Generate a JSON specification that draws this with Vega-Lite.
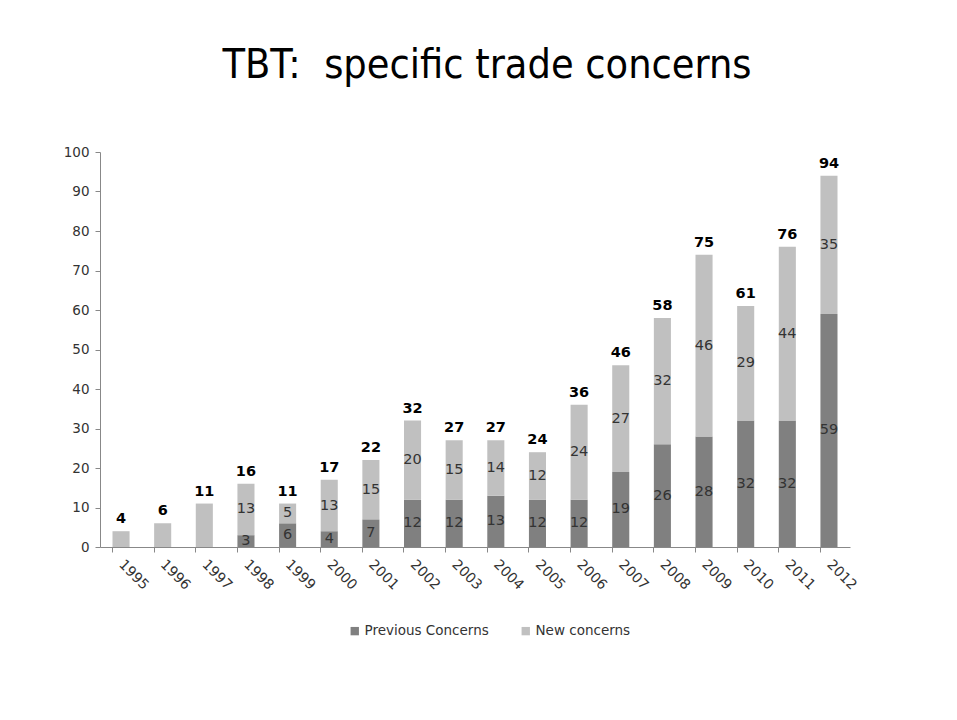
{
  "$schema": "https://vega.github.io/schema/vega-lite/v6.json",
  "autosize": "none",
  "width": 750,
  "height": 395,
  "padding": {"left": 100, "top": 152, "right": 107, "bottom": 173},
  "background": "white",
  "title": {
    "text": "TBT:\u00a0 specific trade concerns",
    "font": "DejaVu Sans Condensed, Liberation Sans, sans-serif",
    "fontSize": 41,
    "fontWeight": "normal",
    "color": "black",
    "anchor": "middle",
    "offset": 58,
    "dx": 12
  },
  "config": {
    "view": {"stroke": null},
    "font": "DejaVu Sans"
  },
  "data": {
    "values": [
      {"year": "1995", "series": "Previous Concerns", "value": 0, "total": 4},
      {"year": "1995", "series": "New concerns", "value": 4, "total": 4},
      {"year": "1996", "series": "Previous Concerns", "value": 0, "total": 6},
      {"year": "1996", "series": "New concerns", "value": 6, "total": 6},
      {"year": "1997", "series": "Previous Concerns", "value": 0, "total": 11},
      {"year": "1997", "series": "New concerns", "value": 11, "total": 11},
      {"year": "1998", "series": "Previous Concerns", "value": 3, "total": 16},
      {"year": "1998", "series": "New concerns", "value": 13, "total": 16},
      {"year": "1999", "series": "Previous Concerns", "value": 6, "total": 11},
      {"year": "1999", "series": "New concerns", "value": 5, "total": 11},
      {"year": "2000", "series": "Previous Concerns", "value": 4, "total": 17},
      {"year": "2000", "series": "New concerns", "value": 13, "total": 17},
      {"year": "2001", "series": "Previous Concerns", "value": 7, "total": 22},
      {"year": "2001", "series": "New concerns", "value": 15, "total": 22},
      {"year": "2002", "series": "Previous Concerns", "value": 12, "total": 32},
      {"year": "2002", "series": "New concerns", "value": 20, "total": 32},
      {"year": "2003", "series": "Previous Concerns", "value": 12, "total": 27},
      {"year": "2003", "series": "New concerns", "value": 15, "total": 27},
      {"year": "2004", "series": "Previous Concerns", "value": 13, "total": 27},
      {"year": "2004", "series": "New concerns", "value": 14, "total": 27},
      {"year": "2005", "series": "Previous Concerns", "value": 12, "total": 24},
      {"year": "2005", "series": "New concerns", "value": 12, "total": 24},
      {"year": "2006", "series": "Previous Concerns", "value": 12, "total": 36},
      {"year": "2006", "series": "New concerns", "value": 24, "total": 36},
      {"year": "2007", "series": "Previous Concerns", "value": 19, "total": 46},
      {"year": "2007", "series": "New concerns", "value": 27, "total": 46},
      {"year": "2008", "series": "Previous Concerns", "value": 26, "total": 58},
      {"year": "2008", "series": "New concerns", "value": 32, "total": 58},
      {"year": "2009", "series": "Previous Concerns", "value": 28, "total": 75},
      {"year": "2009", "series": "New concerns", "value": 46, "total": 75},
      {"year": "2010", "series": "Previous Concerns", "value": 32, "total": 61},
      {"year": "2010", "series": "New concerns", "value": 29, "total": 61},
      {"year": "2011", "series": "Previous Concerns", "value": 32, "total": 76},
      {"year": "2011", "series": "New concerns", "value": 44, "total": 76},
      {"year": "2012", "series": "Previous Concerns", "value": 59, "total": 94},
      {"year": "2012", "series": "New concerns", "value": 35, "total": 94}
    ]
  },
  "encoding": {
    "x": {
      "field": "year",
      "type": "ordinal",
      "scale": {"paddingInner": 0.59, "paddingOuter": 0.3},
      "axis": {
        "title": null,
        "bandPosition": 0,
        "labelAngle": 45,
        "labelAlign": "left",
        "labelBaseline": "middle",
        "labelFont": "DejaVu Sans",
        "labelFontSize": 14,
        "labelColor": "#333333",
        "labelPadding": 10,
        "domainColor": "#888888",
        "tickColor": "#888888",
        "tickSize": 5
      }
    }
  },
  "layer": [
    {
      "mark": {"type": "bar"},
      "encoding": {
        "y": {
          "field": "value",
          "type": "quantitative",
          "stack": "zero",
          "scale": {"domain": [0, 100]},
          "axis": {
            "title": null,
            "values": [0, 10, 20, 30, 40, 50, 60, 70, 80, 90, 100],
            "labelOverlap": false,
            "grid": false,
            "labelFont": "DejaVu Sans",
            "labelFontSize": 13.5,
            "labelColor": "#333333",
            "domainColor": "#888888",
            "tickColor": "#888888",
            "tickSize": 5,
            "labelPadding": 6
          }
        },
        "color": {
          "field": "series",
          "type": "nominal",
          "scale": {"domain": ["Previous Concerns", "New concerns"], "range": ["#808080", "#c0c0c0"]},
          "legend": {
            "title": null,
            "orient": "none",
            "direction": "horizontal",
            "legendX": 248,
            "legendY": 472,
            "symbolType": "square",
            "symbolSize": 70,
            "symbolStrokeWidth": 0,
            "labelFont": "DejaVu Sans",
            "labelFontSize": 13.5,
            "labelColor": "#333333",
            "labelOffset": 3,
            "columnPadding": 30
          }
        },
        "order": {"field": "series", "sort": "descending"}
      }
    },
    {
      "transform": [{"filter": "datum.year >= '1998'"}],
      "mark": {"type": "text", "fontSize": 14.5, "color": "#333333", "font": "DejaVu Sans", "baseline": "middle"},
      "encoding": {
        "y": {
          "field": "value",
          "type": "quantitative",
          "stack": "zero",
          "bandPosition": 0.5,
          "axis": {
            "title": null,
            "values": [0, 10, 20, 30, 40, 50, 60, 70, 80, 90, 100],
            "labelOverlap": false,
            "grid": false,
            "labelFont": "DejaVu Sans",
            "labelFontSize": 13.5,
            "labelColor": "#333333",
            "domainColor": "#888888",
            "tickColor": "#888888",
            "tickSize": 5,
            "labelPadding": 6
          }
        },
        "text": {"field": "value", "type": "quantitative"},
        "order": {"field": "series", "sort": "descending"},
        "detail": {"field": "series"}
      }
    },
    {
      "transform": [
        {"aggregate": [{"op": "sum", "field": "value", "as": "top"}, {"op": "max", "field": "total", "as": "label"}], "groupby": ["year"]}
      ],
      "mark": {"type": "text", "fontSize": 14.5, "fontWeight": "bold", "color": "black", "font": "DejaVu Sans", "baseline": "bottom", "dy": -5},
      "encoding": {
        "y": {
          "field": "top",
          "type": "quantitative",
          "axis": {
            "title": null,
            "values": [0, 10, 20, 30, 40, 50, 60, 70, 80, 90, 100],
            "labelOverlap": false,
            "grid": false,
            "labelFont": "DejaVu Sans",
            "labelFontSize": 13.5,
            "labelColor": "#333333",
            "domainColor": "#888888",
            "tickColor": "#888888",
            "tickSize": 5,
            "labelPadding": 6
          }
        },
        "text": {"field": "label", "type": "quantitative"}
      }
    }
  ]
}
